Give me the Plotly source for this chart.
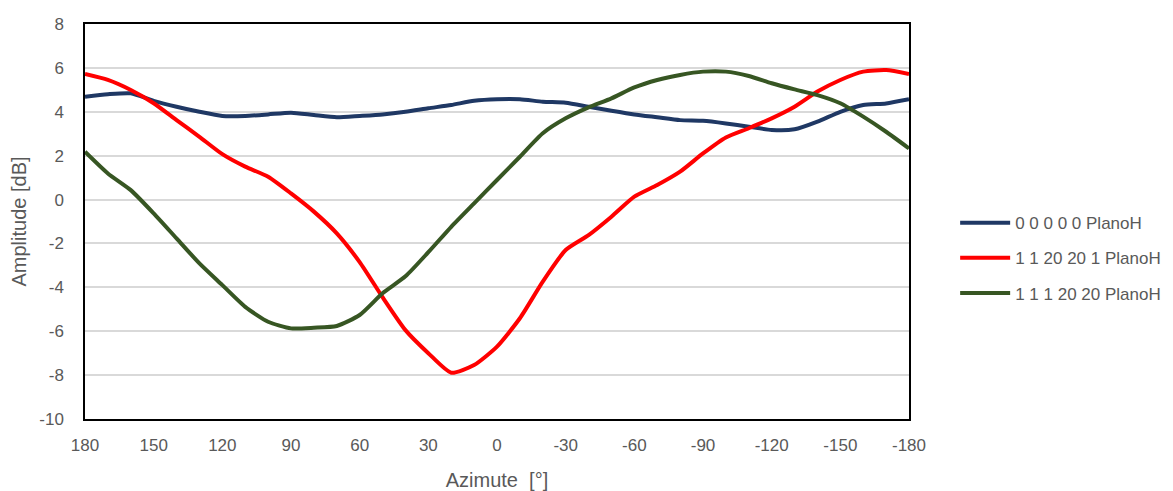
import plotly.graph_objects as go

azimuth = [180, 170, 160, 150, 140, 130, 120, 110, 100, 90, 80, 70, 60, 50, 40, 30, 20, 10, 0,
           -10, -20, -30, -40, -50, -60, -70, -80, -90, -100, -110, -120, -130, -140, -150, -160, -170, -180]

blue_vals = [4.69, 4.80, 4.84, 4.50, 4.23, 4.00, 3.81, 3.81, 3.88, 3.96, 3.85, 3.75, 3.81, 3.88, 4.00, 4.16, 4.31, 4.50, 4.57,
             4.57, 4.46, 4.41, 4.23, 4.05, 3.88, 3.75, 3.62, 3.59, 3.47, 3.32, 3.17, 3.20, 3.55, 4.00, 4.31, 4.38, 4.57]

red_vals = [5.72, 5.45, 4.99, 4.39, 3.62, 2.86, 2.07, 1.50, 1.04, 0.28, -0.55, -1.54, -2.85, -4.45, -5.95, -7.00, -7.89, -7.54, -6.70,
            -5.41, -3.74, -2.30, -1.62, -0.78, 0.13, 0.66, 1.27, 2.10, 2.83, 3.25, 3.70, 4.23, 4.92, 5.45, 5.83, 5.90, 5.72]

green_vals = [2.18, 1.19, 0.43, -0.63, -1.77, -2.91, -3.90, -4.89, -5.57, -5.87, -5.84, -5.76, -5.26, -4.27, -3.50, -2.40, -1.24, -0.17, 0.89,
              1.95, 3.02, 3.70, 4.20, 4.61, 5.11, 5.45, 5.68, 5.83, 5.83, 5.63, 5.30, 5.02, 4.76, 4.39, 3.78, 3.09, 2.33]

series_names = ["0 0 0 0 0 PlanoH", "1 1 20 20 1 PlanoH", "1 1 1 20 20 PlanoH"]
series_colors = ["#1F3864", "#FF0000", "#375623"]

x_tickvals = [180, 150, 120, 90, 60, 30, 0, -30, -60, -90, -120, -150, -180]
x_ticktext = ["180", "150", "120", "90", "60", "30", "0", "-30", "-60", "-90", "-120", "-150", "-180"]
y_tickvals = [8, 6, 4, 2, 0, -2, -4, -6, -8, -10]
y_ticktext = ["8", "6", "4", "2", "0", "-2", "-4", "-6", "-8", "-10"]

font_family = "Liberation Sans, Arial, sans-serif"
text_color = "#595959"

fig = go.Figure()
for name, vals, color in zip(series_names, [blue_vals, red_vals, green_vals], series_colors):
    fig.add_trace(go.Scatter(
        x=azimuth, y=vals, name=name, mode="lines",
        line=dict(color=color, width=4, shape="spline", smoothing=0.6),
        legendgroup=name,
    ))

fig.update_layout(
    width=1165, height=483,
    margin=dict(l=77, r=264, t=16, b=72),
    paper_bgcolor="white", plot_bgcolor="white",
    font=dict(family=font_family, size=17, color=text_color),
    legend=dict(xref="container", yref="container", x=0.813, xanchor="left",
                y=0.482, yanchor="middle",
                tracegroupgap=10, itemwidth=50, font=dict(size=17, color=text_color),
                bgcolor="rgba(0,0,0,0)"),
    showlegend=True,
)
fig.update_xaxes(
    range=[180, -180], tickvals=x_tickvals, ticktext=x_ticktext,
    showgrid=False, zeroline=False, automargin=False,
    showline=True, mirror=True, linecolor="#000000", linewidth=1.5,
    ticks="", ticklabelstandoff=10, tickfont=dict(size=17),
    title=dict(text="Azimute  [°]", font=dict(size=20, color=text_color), standoff=19),
)
fig.update_yaxes(
    range=[-10, 8], tickvals=y_tickvals, ticktext=y_ticktext,
    showgrid=True, gridcolor="#D9D9D9", gridwidth=1.5, zeroline=False, automargin=False,
    showline=True, mirror=True, linecolor="#000000", linewidth=1.5,
    ticks="", ticklabelstandoff=16, tickfont=dict(size=17),
    title=dict(text="Amplitude [dB]", font=dict(size=20, color=text_color), standoff=8),
)

fig.write_html("out.html")
